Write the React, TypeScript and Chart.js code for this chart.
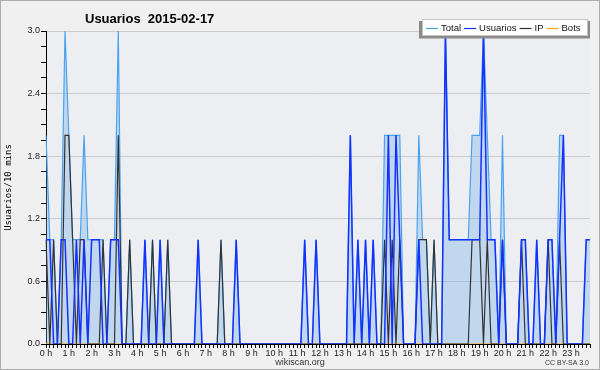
import React, { useEffect, useRef } from 'react';
import { Chart, registerables } from 'chart.js';

Chart.register(...registerables);

// ---- data ----
const CHART_TITLE = 'Usuarios  2015-02-17';
const Y_TITLE = 'Usuarios/10 mins';
const FOOTER_CENTER = 'wikiscan.org';
const FOOTER_RIGHT = 'CC BY-SA 3.0';

const HOUR_LABELS = [
  '0 h', '1 h', '2 h', '3 h', '4 h', '5 h', '6 h', '7 h', '8 h', '9 h', '10 h', '11 h',
  '12 h', '13 h', '14 h', '15 h', '16 h', '17 h', '18 h', '19 h', '20 h', '21 h', '22 h', '23 h',
];
const SLOTS_PER_HOUR = 6;
const Y_MAX = 3;
const Y_MINOR_STEP = 0.15;
const Y_LABEL_STEP = 0.6;

// one value per 10 minutes, 12 values per row (2 hours)
const TOTAL = [
  2, 1, 1, 0, 1, 3, 2, 1, 1, 1, 2, 1,
  1, 1, 1, 1, 0, 1, 1, 3, 0, 0, 1, 0,
  0, 0, 1, 0, 1, 0, 1, 0, 1, 0, 0, 0,
  0, 0, 0, 0, 1, 0, 0, 0, 0, 0, 1, 0,
  0, 0, 1, 0, 0, 0, 0, 0, 0, 0, 0, 0,
  0, 0, 0, 0, 0, 0, 0, 0, 1, 0, 0, 1,
  0, 0, 0, 0, 0, 0, 0, 0, 2, 0, 1, 0,
  1, 0, 1, 0, 0, 2, 2, 2, 2, 2, 0, 0,
  0, 0, 2, 1, 1, 0, 1, 0, 0, 3, 1, 1,
  1, 1, 1, 1, 2, 2, 2, 3, 2, 1, 1, 0,
  2, 0, 0, 0, 0, 1, 1, 0, 0, 1, 0, 0,
  1, 1, 0, 2, 2, 0, 0, 0, 0, 0, 1, 1,
];

const USUARIOS = [
  1, 1, 0, 0, 1, 1, 0, 0, 1, 0, 1, 0,
  1, 1, 1, 0, 0, 1, 1, 1, 0, 0, 0, 0,
  0, 0, 1, 0, 0, 0, 1, 0, 0, 0, 0, 0,
  0, 0, 0, 0, 1, 0, 0, 0, 0, 0, 0, 0,
  0, 0, 1, 0, 0, 0, 0, 0, 0, 0, 0, 0,
  0, 0, 0, 0, 0, 0, 0, 0, 1, 0, 0, 1,
  0, 0, 0, 0, 0, 0, 0, 0, 2, 0, 1, 0,
  1, 0, 1, 0, 0, 0, 2, 0, 2, 1, 0, 0,
  0, 0, 1, 0, 0, 0, 0, 0, 0, 3, 1, 1,
  1, 1, 1, 1, 1, 1, 1, 3, 1, 1, 1, 0,
  1, 0, 0, 0, 0, 1, 1, 0, 0, 1, 0, 0,
  1, 1, 0, 1, 2, 0, 0, 0, 0, 0, 1, 1,
];

const IP = [
  1, 0, 1, 0, 0, 2, 2, 1, 0, 1, 1, 0,
  0, 0, 0, 1, 0, 0, 0, 2, 0, 0, 1, 0,
  0, 0, 0, 0, 1, 0, 0, 0, 1, 0, 0, 0,
  0, 0, 0, 0, 0, 0, 0, 0, 0, 0, 1, 0,
  0, 0, 0, 0, 0, 0, 0, 0, 0, 0, 0, 0,
  0, 0, 0, 0, 0, 0, 0, 0, 0, 0, 0, 0,
  0, 0, 0, 0, 0, 0, 0, 0, 0, 0, 0, 0,
  0, 0, 0, 0, 0, 1, 0, 1, 0, 1, 0, 0,
  0, 0, 1, 1, 1, 0, 1, 0, 0, 0, 0, 0,
  0, 0, 0, 0, 1, 1, 1, 0, 1, 0, 0, 0,
  1, 0, 0, 0, 0, 1, 0, 0, 0, 0, 0, 0,
  1, 0, 0, 1, 0, 0, 0, 0, 0, 0, 0, 0,
];

const BOTS = [
  0, 0, 0, 0, 0, 0, 0, 0, 0, 0, 0, 0,
  0, 0, 0, 0, 0, 0, 0, 0, 0, 0, 0, 0,
  0, 0, 0, 0, 0, 0, 0, 0, 0, 0, 0, 0,
  0, 0, 0, 0, 0, 0, 0, 0, 0, 0, 0, 0,
  0, 0, 0, 0, 0, 0, 0, 0, 0, 0, 0, 0,
  0, 0, 0, 0, 0, 0, 0, 0, 0, 0, 0, 0,
  0, 0, 0, 0, 0, 0, 0, 0, 0, 0, 0, 0,
  0, 0, 0, 0, 0, 0, 0, 0, 0, 0, 0, 0,
  0, 0, 0, 0, 0, 0, 0, 0, 0, 0, 0, 0,
  0, 0, 0, 0, 0, 0, 0, 0, 0, 0, 0, 0,
  0, 0, 0, 0, 0, 0, 0, 0, 0, 0, 0, 0,
  0, 0, 0, 0, 0, 0, 0, 0, 0, 0, 0, 0,
];

const FONT = '"Liberation Sans", Arial, sans-serif';

function isMajor(v: number): boolean {
  const r = v / Y_LABEL_STEP;
  return Math.abs(r - Math.round(r)) < 1e-6;
}

export default function App() {
  const ref = useRef<HTMLCanvasElement>(null);

  useEffect(() => {
    if (!ref.current) return;
    const labels: string[] = [];
    for (let h = 0; h < HOUR_LABELS.length; h++) {
      for (let k = 0; k < SLOTS_PER_HOUR; k++) labels.push(k === 0 ? HOUR_LABELS[h] : '');
    }

    const decor = {
      id: 'decor',
      beforeDraw(chart: any) {
        const { ctx, chartArea: a, width, height } = chart;
        ctx.save();
        ctx.fillStyle = '#f0f0f0';
        ctx.fillRect(0, 0, width, height);
        ctx.strokeStyle = '#adadad';
        ctx.lineWidth = 1;
        ctx.strokeRect(0.5, 0.5, width - 1, height - 1);
        ctx.fillStyle = '#eceef1';
        ctx.fillRect(a.left, a.top, a.right - a.left, a.bottom - a.top);
        ctx.restore();
      },
      afterDraw(chart: any) {
        const { ctx } = chart;
        ctx.save();
        // title
        ctx.fillStyle = '#000';
        ctx.font = 'bold 13px ' + FONT;
        ctx.textAlign = 'left';
        ctx.textBaseline = 'alphabetic';
        ctx.fillText(CHART_TITLE, 85, 23);
        // footer
        ctx.font = '9px ' + FONT;
        ctx.fillStyle = '#333';
        ctx.textAlign = 'center';
        ctx.fillText(FOOTER_CENTER, 300, 365);
        ctx.font = '7px ' + FONT;
        ctx.textAlign = 'right';
        ctx.fillText(FOOTER_RIGHT, 589, 365);
        // legend
        ctx.fillStyle = '#8a8a8a';
        ctx.fillRect(419, 21, 171, 17.5);
        ctx.fillStyle = '#ffffff';
        ctx.fillRect(422, 19, 166, 17);
        ctx.strokeStyle = '#c4c4c4';
        ctx.lineWidth = 1;
        ctx.strokeRect(422.5, 19.5, 165, 16);
        ctx.font = '9.5px ' + FONT;
        ctx.textAlign = 'left';
        ctx.textBaseline = 'middle';
        let x = 426;
        const y = 28;
        chart.data.datasets.forEach((ds: any) => {
          ctx.strokeStyle = ds.borderColor;
          ctx.lineWidth = 1.2;
          ctx.beginPath();
          ctx.moveTo(x, y + 0.5);
          ctx.lineTo(x + 12, y + 0.5);
          ctx.stroke();
          ctx.fillStyle = '#111';
          ctx.fillText(ds.label, x + 15, y);
          x += 15 + ctx.measureText(ds.label).width + 3;
        });
        ctx.restore();
      },
    };

    const chart = new Chart(ref.current, {
      type: 'line',
      data: {
        labels,
        datasets: [
          {
            label: 'Total',
            data: TOTAL,
            borderColor: '#4aa3f0',
            backgroundColor: 'rgba(105,170,232,0.33)',
            fill: 'origin',
            borderWidth: 1.2,
            order: 4,
          },
          { label: 'Usuarios', data: USUARIOS, borderColor: '#1432ff', borderWidth: 1.5, fill: false, order: 1 },
          { label: 'IP', data: IP, borderColor: '#333333', borderWidth: 1.2, fill: false, order: 2 },
          { label: 'Bots', data: BOTS, borderColor: '#ffa500', borderWidth: 1, fill: false, order: 3 },
        ],
      },
      options: {
        responsive: false,
        animation: false,
        devicePixelRatio: 1,
        layout: { padding: { left: 0, right: 10, top: 31, bottom: 0 } },
        plugins: {
          legend: { display: false },
          title: { display: false },
          tooltip: { enabled: false },
        },
        elements: { point: { radius: 0 }, line: { tension: 0 } },
        scales: {
          x: {
            type: 'category',
            offset: false,
            z: 1,
            grid: { drawOnChartArea: false, drawTicks: true, tickLength: 4, tickColor: '#000', color: '#000' },
            border: { display: true, color: '#000', width: 1 },
            ticks: {
              autoSkip: false,
              maxRotation: 0,
              minRotation: 0,
              padding: 0,
              font: { family: FONT, size: 9 },
              color: '#222',
            },
            afterFit: (s: any) => { s.height = 26; },
          },
          y: {
            min: 0,
            max: Y_MAX,
            border: { display: true, color: '#000', width: 1 },
            grid: {
              color: (c: any) => (c.tick && isMajor(c.tick.value) ? '#cbcbcb' : 'rgba(0,0,0,0)'),
              tickColor: '#000',
              tickLength: 5,
              drawTicks: true,
            },
            ticks: {
              stepSize: Y_MINOR_STEP,
              autoSkip: false,
              maxTicksLimit: 50,
              padding: 1,
              font: { family: FONT, size: 9 },
              color: '#222',
              callback: (v: any) => (isMajor(Number(v)) ? Number(v).toFixed(1) : ''),
            },
            title: {
              display: true,
              text: Y_TITLE,
              font: { family: '"DejaVu Sans Mono", monospace', size: 9 },
              color: '#000',
              padding: { top: 3, bottom: 0 },
            },
            afterFit: (s: any) => { s.width = 46; },
          },
        },
      },
      plugins: [decor],
    } as any);

    return () => chart.destroy();
  }, []);

  return (
    <div style={{ position: 'fixed', left: 0, top: 0, width: 600, height: 370 }}>
      <canvas ref={ref} width={600} height={370} style={{ display: 'block' }} />
    </div>
  );
}
